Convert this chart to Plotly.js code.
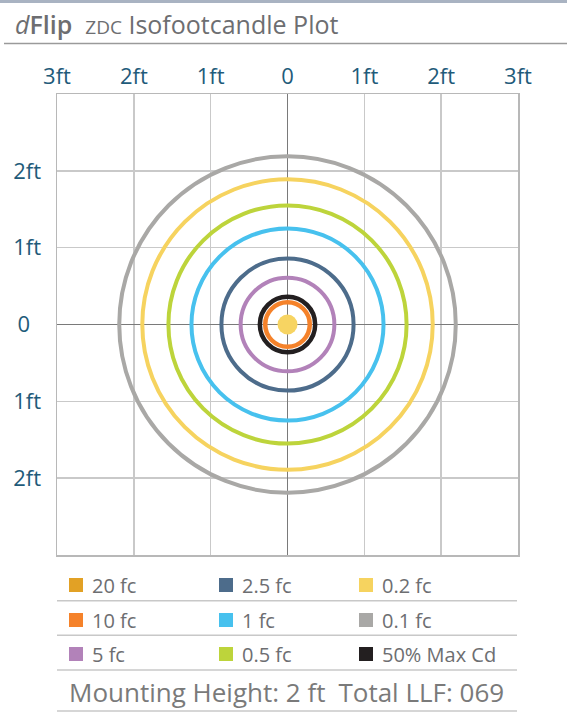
<!DOCTYPE html>
<html>
<head>
<meta charset="utf-8">
<script src="https://cdn.plot.ly/plotly-3.0.1.min.js"></script>
<style>html,body{margin:0;padding:0;background:#fff;}#chart{width:567px;height:712px;}</style>
</head>
<body>
<div id="chart"></div>
<script>
// ---- data ----
const levels = ['20 fc', '10 fc', '5 fc', '2.5 fc', '1 fc', '0.5 fc', '0.2 fc', '0.1 fc', '50% Max Cd'];
const radiiFt = [0.13, 0.29, 0.61, 0.86, 1.25, 1.55, 1.89, 2.19, 0.36];
const levelColors = ['#E2A125', '#F5822A', '#B282B9', '#4D6C8B', '#47C1EE', '#BDD43B', '#F6D35F', '#A9A8A6', '#231F20'];
const centerFill = '#F7D462';
const xTickVals = [-3, -2, -1, 0, 1, 2, 3];
const xTickText = ['3ft', '2ft', '1ft', '0', '1ft', '2ft', '3ft'];
const yTickVals = [-2, -1, 0, 1, 2];
const yTickText = ['2ft', '1ft', '0\u2002', '1ft', '2ft'];
const legendOrder = [[0, 1, 2], [3, 4, 5], [6, 7, 8]]; // columns
const mountingText = 'Mounting Height: 2 ft\u2002Total LLF: 069';

// ---- layout helpers ----
const W = 567, H = 712;
const M = {l: 57, r: 49, t: 94, b: 157};
const PW = W - M.l - M.r, PH = H - M.t - M.b;
const px = x => (x - M.l) / PW;
const py = y => (H - M.b - y) / PH;
const FONT = '"Open Sans", Lato, sans-serif';
const TXT = '#6D6E71';

const shapes = [];
const annotations = [];

// draw order: largest rings first
const drawOrder = [7, 6, 5, 4, 3, 2, 8, 1, 0];
drawOrder.forEach(i => {
  const r = radiiFt[i];
  if (i === 0) {
    shapes.push({type: 'circle', xref: 'x', yref: 'y', x0: -r, x1: r, y0: -r, y1: r,
      fillcolor: centerFill, line: {width: 0}, layer: 'above'});
  } else {
    shapes.push({type: 'circle', xref: 'x', yref: 'y', x0: -r, x1: r, y0: -r, y1: r,
      line: {color: levelColors[i], width: (i === 1 || i === 8) ? 4.5 : 4}, layer: 'above'});
  }
});

// top bar and title underline
shapes.push({type: 'rect', xref: 'paper', yref: 'paper', x0: px(0), x1: px(W), y0: py(0), y1: py(3),
  fillcolor: '#A9B3C2', line: {width: 0}});
shapes.push({type: 'line', xref: 'paper', yref: 'paper', x0: px(4), x1: px(W), y0: py(43.5), y1: py(43.5),
  line: {color: '#9A9A9A', width: 1.5}});

annotations.push({xref: 'paper', yref: 'paper', x: px(13), y: py(24), xanchor: 'left', yanchor: 'middle',
  showarrow: false,
  text: '<i>d</i><span style="font-weight:600">Flip</span>  <span style="font-size:19px">ZDC</span> Isofootcandle Plot',
  font: {family: FONT, size: 25, color: TXT}});

// legend table
const colSq = [69, 219, 359];
const colTx = [90, 240, 380];
const rowY = [585, 620, 654];
legendOrder.forEach((col, c) => {
  col.forEach((idx, r) => {
    const yc = rowY[r];
    shapes.push({type: 'rect', xref: 'paper', yref: 'paper',
      x0: px(colSq[c]), x1: px(colSq[c] + 14), y0: py(yc - 7), y1: py(yc + 7),
      fillcolor: levelColors[idx], line: {width: 0}});
    annotations.push({xref: 'paper', yref: 'paper', x: px(colTx[c]), y: py(yc), xanchor: 'left', yanchor: 'middle',
      showarrow: false, text: levels[idx], font: {family: FONT, size: 20, color: TXT}});
  });
});
[600.7, 635.3, 670, 711].forEach(y => {
  shapes.push({type: 'line', xref: 'paper', yref: 'paper', x0: px(57), x1: px(517), y0: py(y), y1: py(y),
    line: {color: '#C8C8C8', width: 1.5}});
});
annotations.push({xref: 'paper', yref: 'paper', x: px(67), y: py(692), xanchor: 'left', yanchor: 'middle',
  showarrow: false, text: mountingText, font: {family: FONT, size: 26, color: '#7A7A7A'}});

const axisCommon = {
  range: [-3, 3], fixedrange: true, showgrid: true, gridcolor: '#C9C9C9', gridwidth: 1.5,
  zeroline: true, zerolinecolor: '#7A7A7A', zerolinewidth: 1.5,
  showline: true, linecolor: '#B8B8B8', linewidth: 1.5, mirror: true,
  ticks: '', tickmode: 'array', tickfont: {family: FONT, size: 22, color: '#1F5B7A'}
};

const layout = {
  width: W, height: H, margin: M, paper_bgcolor: '#fff', plot_bgcolor: '#fff', showlegend: false,
  xaxis: Object.assign({}, axisCommon, {side: 'top', tickvals: xTickVals, ticktext: xTickText, ticklabelstandoff: 0}),
  yaxis: Object.assign({}, axisCommon, {tickvals: yTickVals, ticktext: yTickText, ticklabelstandoff: 10}),
  shapes: shapes, annotations: annotations
};

Plotly.newPlot('chart', [{x: [], y: [], type: 'scatter', mode: 'lines', hoverinfo: 'skip'}], layout,
  {staticPlot: true, displayModeBar: false});
</script>
</body>
</html>
